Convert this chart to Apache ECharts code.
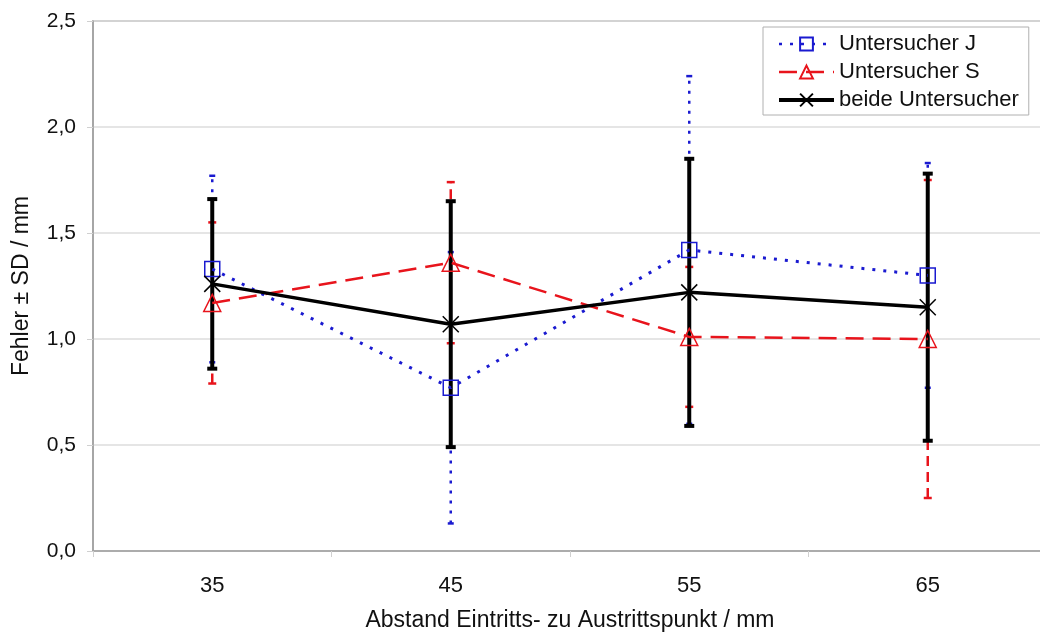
<!DOCTYPE html>
<html>
<head>
<meta charset="utf-8">
<script src="https://cdn.jsdelivr.net/npm/echarts@6/dist/echarts.min.js"></script>
<style>
  html, body { margin: 0; padding: 0; background: #fff; }
  #chart { width: 1040px; height: 634px; }
</style>
</head>
<body>
<div id="chart"></div>
<script>
const categories = ['35', '45', '55', '65'];

// Untersucher J
const meanJ = [1.33, 0.77, 1.42, 1.30];
const sdJ = [0.44, 0.64, 0.82, 0.53];
// Untersucher S
const meanS = [1.17, 1.36, 1.01, 1.00];
const sdS = [0.38, 0.38, 0.33, 0.75];
// beide Untersucher
const meanB = [1.26, 1.07, 1.22, 1.15];
const sdB = [0.40, 0.58, 0.63, 0.63];

const yTicks = [0, 0.5, 1.0, 1.5, 2.0, 2.5];

const font = 'Liberation Sans, Arial, sans-serif';
const blue = '#1a1ad0';
const red = '#e8141c';

const errData = (mean, sd) => mean.map((m, i) => [i, m - sd[i], m + sd[i]]);

// custom error bar: vertical line with short caps
const errorBars = (name, mean, sd, color, width, dash, capW, z) => ({
  type: 'custom',
  name: name + '_err',
  z: z,
  silent: true,
  data: errData(mean, sd),
  renderItem: (params, api) => {
    const lo = api.coord([api.value(0), api.value(1)]);
    const hi = api.coord([api.value(0), api.value(2)]);
    const style = { stroke: color, lineWidth: width, lineDash: dash, fill: null };
    const capStyle = { stroke: color, lineWidth: width, fill: null };
    return {
      type: 'group',
      children: [
        { type: 'line', shape: { x1: lo[0], y1: lo[1], x2: hi[0], y2: hi[1] }, style: style },
        { type: 'line', shape: { x1: hi[0] - capW, y1: hi[1], x2: hi[0] + capW, y2: hi[1] }, style: capStyle },
        { type: 'line', shape: { x1: lo[0] - capW, y1: lo[1], x2: lo[0] + capW, y2: lo[1] }, style: capStyle }
      ]
    };
  }
});

const chart = echarts.init(document.getElementById('chart'));

chart.setOption({
  animation: false,
  backgroundColor: '#fff',
  grid: {
    left: 93, top: 21, width: 954, height: 530,
    outerBoundsMode: 'none',
    containLabel: false,
    show: true, borderColor: '#a0a0a0', borderWidth: 1.5, backgroundColor: 'transparent'
  },
  legend: {
    orient: 'vertical',
    left: 763, top: 27,
    padding: [6, 10, 4, 14],
    backgroundColor: '#fff',
    borderColor: '#b0b0b0',
    borderWidth: 1,
    borderRadius: 0,
    itemWidth: 55,
    itemHeight: 16,
    itemGap: 6,
    textStyle: { fontFamily: font, fontSize: 22, color: '#111' },
    data: [
      { name: 'Untersucher J', lineStyle: { width: 2.5 } },
      { name: 'Untersucher S', lineStyle: { width: 2.5 } },
      { name: 'beide Untersucher', lineStyle: { width: 4 } }
    ]
  },
  xAxis: {
    type: 'category',
    data: categories,
    boundaryGap: true,
    name: 'Abstand Eintritts- zu Austrittspunkt / mm',
    nameLocation: 'middle',
    nameGap: 58,
    nameTextStyle: { fontFamily: font, fontSize: 23, color: '#111' },
    axisLine: { lineStyle: { color: '#a0a0a0', width: 1.5 } },
    axisTick: { show: true, alignWithLabel: false, length: 6, lineStyle: { color: '#d0d0d0' } },
    axisLabel: { fontFamily: font, fontSize: 22, color: '#111', margin: 24 },
    splitLine: { show: false }
  },
  yAxis: {
    type: 'value',
    min: yTicks[0],
    max: yTicks[yTicks.length - 1],
    interval: 0.5,
    name: 'Fehler \u00b1 SD / mm',
    nameLocation: 'middle',
    nameGap: 60,
    nameTextStyle: { fontFamily: font, fontSize: 23, color: '#111' },
    axisLine: { show: true, lineStyle: { color: '#a0a0a0', width: 1.5 } },
    axisTick: { show: true, length: 6, lineStyle: { color: '#d0d0d0' } },
    axisLabel: {
      fontFamily: font, fontSize: 21, color: '#111', margin: 17,
      formatter: v => v.toFixed(1).replace('.', ',')
    },
    splitLine: { show: true, lineStyle: { color: '#dcdcdc', width: 1.5 } }
  },
  series: [
    errorBars('Untersucher J', meanJ, sdJ, blue, 2.5, [3, 7], 3, 1),
    errorBars('Untersucher S', meanS, sdS, red, 2.5, [10, 6], 4, 1),
    errorBars('beide Untersucher', meanB, sdB, '#000', 4, null, 5, 2),
    {
      name: 'Untersucher J',
      type: 'line',
      z: 3,
      data: meanJ,
      symbol: 'rect',
      symbolSize: 15,
      lineStyle: { color: blue, width: 3, type: [3, 8] },
      itemStyle: { color: 'rgba(255,255,255,0)', borderColor: blue, borderWidth: 1.5 }
    },
    {
      name: 'Untersucher S',
      type: 'line',
      z: 3,
      data: meanS,
      symbol: 'triangle',
      symbolSize: 17,
      lineStyle: { color: red, width: 2.5, type: [18, 9] },
      itemStyle: { color: 'rgba(255,255,255,0)', borderColor: red, borderWidth: 1.5 }
    },
    {
      name: 'beide Untersucher',
      type: 'line',
      z: 4,
      data: meanB,
      symbol: 'path://M0,0L10,10M10,0L0,10',
      symbolSize: 16,
      lineStyle: { color: '#000', width: 3.5 },
      itemStyle: { color: 'rgba(0,0,0,0)', borderColor: '#000', borderWidth: 1.5 }
    }
  ]
});
</script>
</body>
</html>
